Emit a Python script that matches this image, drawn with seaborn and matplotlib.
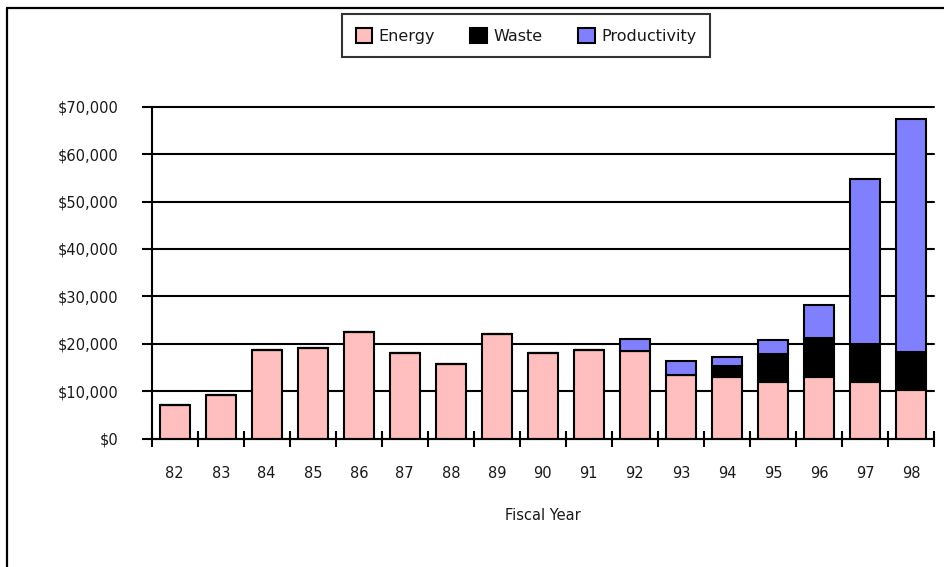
import matplotlib
matplotlib.use("Agg")
import matplotlib.pyplot as plt
from matplotlib.lines import Line2D
from matplotlib.ticker import FixedLocator, FuncFormatter
import numpy as np
import pandas as pd
import seaborn as sns

# Savings by fiscal year, in dollars
years = ["82", "83", "84", "85", "86", "87", "88", "89", "90",
         "91", "92", "93", "94", "95", "96", "97", "98"]
energy = [7000, 9200, 18600, 19000, 22400, 18100, 15700, 22000, 18100,
          18600, 18500, 13400, 12900, 12000, 12900, 12000, 10250]
waste = [0, 0, 0, 0, 0, 0, 0, 0, 0,
         0, 0, 0, 2500, 5900, 8300, 7900, 7950]
productivity = [0, 0, 0, 0, 0, 0, 0, 0, 0,
                0, 2600, 3000, 1800, 2800, 7000, 34900, 49200]
series_names = ["Energy", "Waste", "Productivity"]
series_colors = ["#FFBFBF", "#000000", "#8080FF"]
y_ticks = [0, 10000, 20000, 30000, 40000, 50000, 60000, 70000]

df = pd.DataFrame({"year": years, "Energy": energy, "Waste": waste,
                   "Productivity": productivity})

sns.set_style("white")
plt.rcParams["font.family"] = ["DejaVu Sans"]

fig = plt.figure(figsize=(9.44, 5.67), dpi=100)
ax = fig.add_axes([0.1607, 0.2266, 0.8287, 0.5852])

lw = 1.5
bottom = np.zeros(len(years))
for name, color in zip(series_names, series_colors):
    sns.barplot(data=df, x="year", y=name, order=years, color=color,
                bottom=bottom.copy(), width=0.66, edgecolor="black",
                linewidth=lw, errorbar=None, ax=ax, label=name, zorder=3,
                saturation=1)
    bottom += df[name].to_numpy()

ax.set_xlim(-0.5, len(years) - 0.5)
ax.set_ylim(0, 70000)

# Horizontal grid in black, ticks pointing outwards
ax.yaxis.set_major_locator(FixedLocator(y_ticks))
ax.yaxis.set_major_formatter(FuncFormatter(lambda v, p: f"${v:,.0f}"))
ax.grid(axis="y", color="black", linewidth=lw, zorder=1)
for gl in ax.yaxis.get_gridlines():
    gl.set_clip_on(False)
ax.tick_params(axis="y", which="major", direction="out", length=7,
               width=lw, color="black", pad=17, labelsize=10.5,
               labelcolor="#1a1a1a", left=True)

# Category boundaries as crossing ticks, labels at category centres
ax.xaxis.set_major_locator(FixedLocator(np.arange(-0.5, len(years), 1.0)))
ax.xaxis.set_major_formatter(FuncFormatter(lambda v, p: ""))
ax.xaxis.set_minor_locator(FixedLocator(np.arange(len(years))))
ax.set_xticks(np.arange(len(years)), labels=years, minor=True)
ax.tick_params(axis="x", which="major", direction="inout", length=12,
               width=lw, color="black", bottom=True)
ax.tick_params(axis="x", which="minor", length=0, pad=20, labelsize=10.5,
               labelcolor="#1a1a1a")

ax.set_xlabel("Fiscal Year", fontsize=10.5, color="#1a1a1a", va="center")
ax.xaxis.set_label_coords(0.5, -0.2306)
ax.set_ylabel("")

for side in ["top", "right"]:
    ax.spines[side].set_visible(False)
for side in ["left", "bottom"]:
    ax.spines[side].set_color("black")
    ax.spines[side].set_linewidth(lw)
    ax.spines[side].set_zorder(4)

handles = [ax.containers[i] for i in range(3)]
leg = ax.legend(handles=handles, labels=series_names, ncol=3,
                loc="upper left", bbox_to_anchor=(0.3623, 0.9753),
                bbox_transform=fig.transFigure, borderaxespad=0,
                fontsize=11.5, frameon=True, fancybox=False,
                handlelength=1.05, handleheight=1.1, handletextpad=0.4,
                columnspacing=2.2, borderpad=0.85)
leg.get_frame().set_edgecolor("black")
leg.get_frame().set_linewidth(lw)
for t in leg.get_texts():
    t.set_color("#1a1a1a")

# Outer frame along the top and left edges of the figure
fig.add_artist(Line2D([7 / 944, 1.0], [1 - 8 / 567, 1 - 8 / 567],
                      transform=fig.transFigure, color="black", lw=1.6))
fig.add_artist(Line2D([7 / 944, 7 / 944], [0.0, 1 - 8 / 567],
                      transform=fig.transFigure, color="black", lw=1.6))

fig.savefig("out.png", dpi=100, facecolor="white")
